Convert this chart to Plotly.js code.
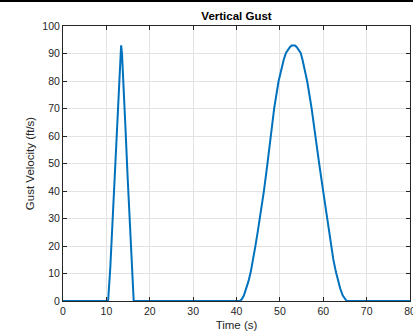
<!DOCTYPE html>
<html>
<head>
<meta charset="utf-8">
<script src="https://cdn.plot.ly/plotly-3.0.1.min.js"></script>
<style>
html,body{margin:0;padding:0;background:#fff;}
#chart{width:413px;height:333px;}
#frame{position:absolute;left:0;top:0;width:413px;height:2px;background:#000;}
</style>
</head>
<body>
<div id="chart"></div>
<div id="frame"></div>
<script>
// Time (s) samples
const timeSec = [0, 10.4, 10.9, 11.4, 11.9, 12.4, 12.9, 13.2, 13.4, 13.6, 13.9, 14.4, 14.9, 15.4, 15.9, 16.3,
  40.8, 41.2, 41.7, 42.3, 42.8, 43.3, 43.9, 44.4, 44.9, 45.4, 46.3, 47.1, 47.95, 48.7, 49.7, 50.4, 50.9, 51.4, 51.9, 52.3, 52.7, 53.1,
  53.5, 53.9, 54.3, 54.8, 55.2, 55.6, 56.3, 57.3, 58.1, 59.1, 60.0, 60.9, 61.4, 61.8, 62.3, 62.9, 63.4, 63.9, 64.5, 65.0, 65.4, 80];
// Gust velocity (ft/s)
const gustVel = [0, 0, 12, 28, 45, 63, 81, 90, 93, 90, 81, 63, 45, 27, 11, 0,
  0, 0.6, 2.0, 4.6, 7.4, 10.7, 15.3, 20.4, 25.2, 30.1, 39.8, 49.5, 60.5, 70.2, 79.9, 84.8, 87.8, 90.2, 91.5, 92.3, 92.9, 93,
  92.9, 92.3, 91.5, 90.2, 87.8, 84.8, 79.9, 70.2, 60.5, 49.5, 39.8, 30.1, 25.2, 20.4, 15.3, 10.7, 7.4, 4.6, 2.0, 0.6, 0, 0];
const xTicks = [0, 10, 20, 30, 40, 50, 60, 70, 80];
const yTicks = [0, 10, 20, 30, 40, 50, 60, 70, 80, 90, 100];

const axisCol = '#262626';
const font = 'Liberation Sans, Arial, Helvetica, sans-serif';

const trace = {
  x: timeSec, y: gustVel, type: 'scatter', mode: 'lines',
  line: {color: '#0072BD', width: 2}, hoverinfo: 'skip'
};

const common = {
  showgrid: true, gridcolor: '#e3e3e3', gridwidth: 1,
  showline: true, linecolor: axisCol, linewidth: 1, mirror: 'ticks',
  ticks: 'inside', ticklen: 4, tickcolor: axisCol, tickwidth: 1,
  zeroline: false, tickfont: {family: font, size: 10.5, color: axisCol},
  ticklabeloverflow: 'allow', fixedrange: true
};

const layout = {
  width: 413, height: 333,
  margin: {l: 63, r: 3, t: 26, b: 32},
  paper_bgcolor: '#fff', plot_bgcolor: '#fff',
  showlegend: false,
  title: {text: '<b>Vertical Gust</b>', font: {family: font, size: 11.5, color: '#000'},
    x: 0.5727, xanchor: 'center', yref: 'container', y: 1 - 16/333, yanchor: 'middle'},
  xaxis: Object.assign({}, common, {
    range: [0, 80], tickvals: xTicks, ticktext: xTicks.map(String),
    title: {text: 'Time (s)', font: {family: font, size: 11.5, color: axisCol}, standoff: 5}
  }),
  yaxis: Object.assign({}, common, {
    range: [0, 100], tickvals: yTicks, ticktext: yTicks.map(String),
    title: {text: 'Gust Velocity (ft/s)', font: {family: font, size: 11.5, color: axisCol}, standoff: 5}
  })
};

Plotly.newPlot('chart', [trace], layout, {staticPlot: true, displayModeBar: false});
</script>
</body>
</html>
